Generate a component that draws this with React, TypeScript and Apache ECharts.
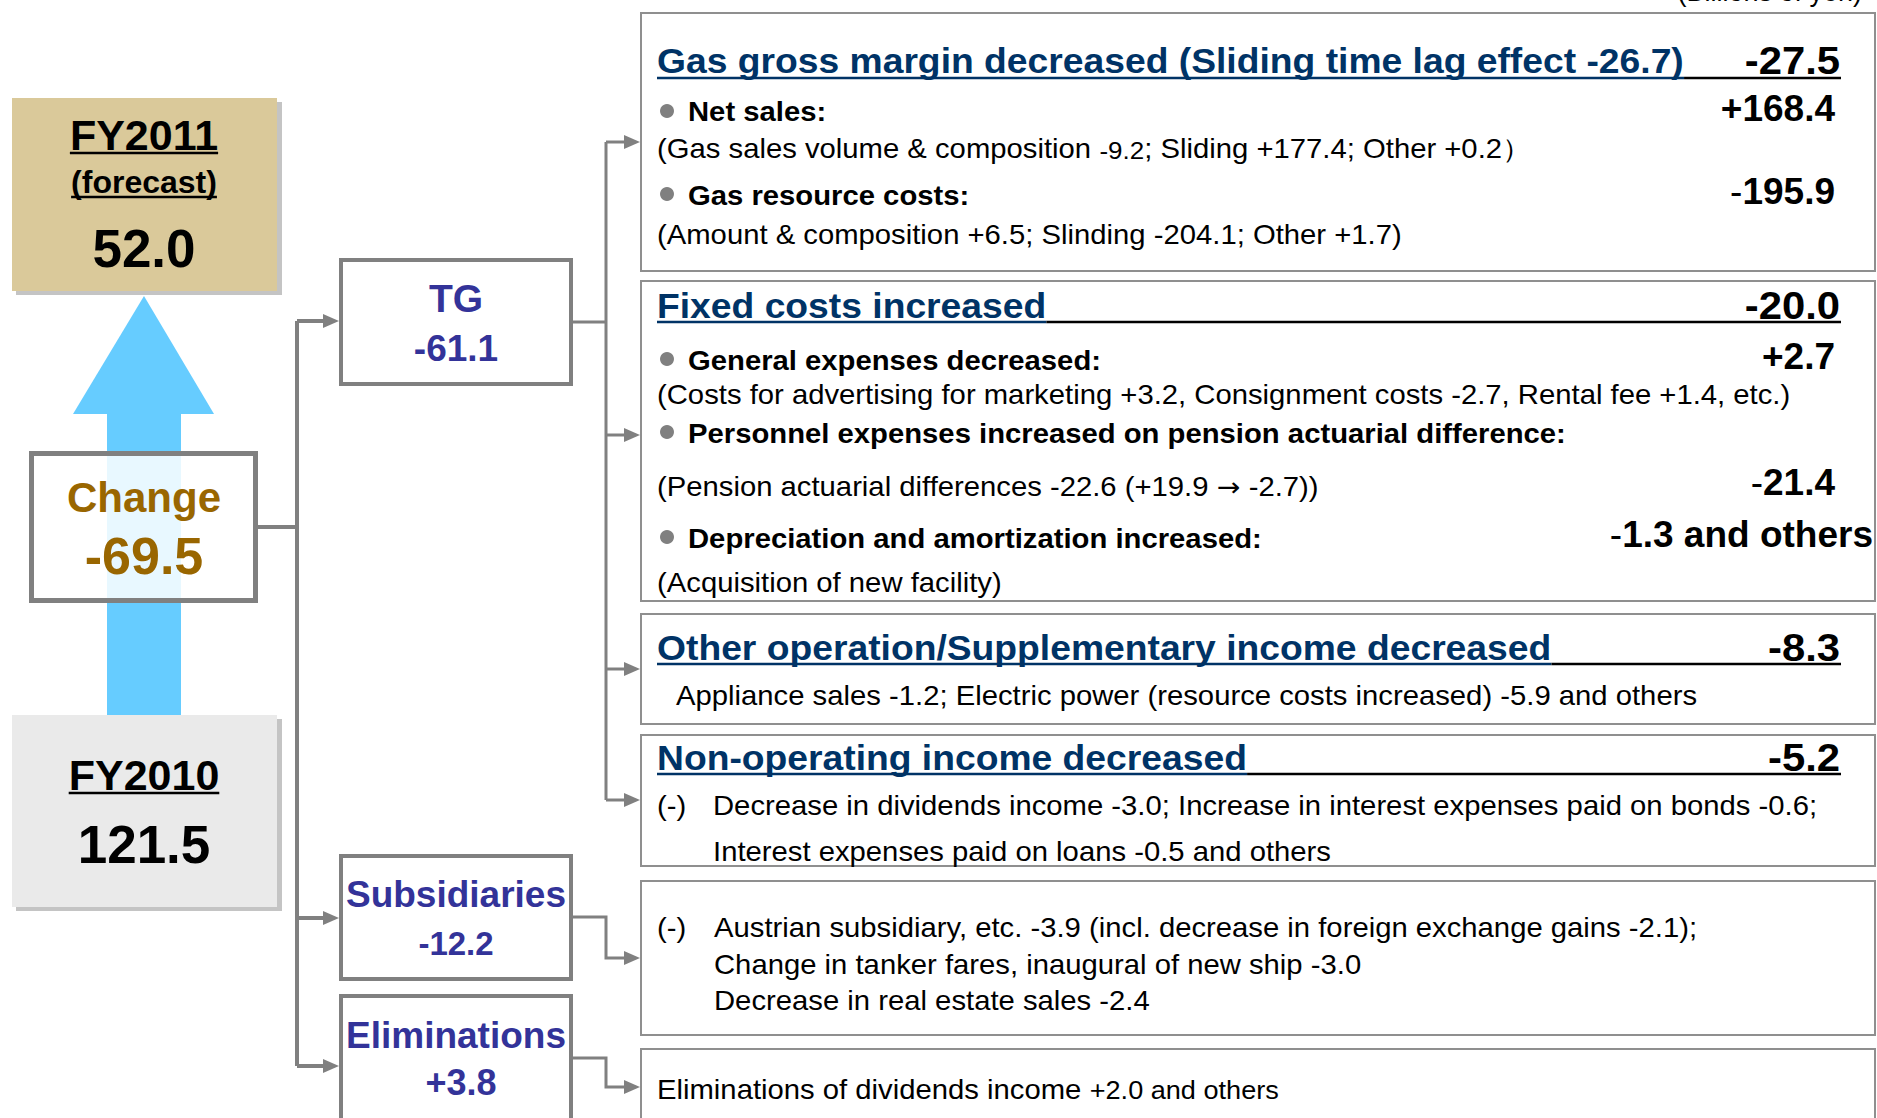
import React, { useEffect, useRef } from "react";
import * as echarts from "echarts";

// ---------------- data ----------------
const unitNote = "(Billions of yen)";
const totalLabels = ["FY2011", "(forecast)", "Change", "FY2010"];
const totalValues = ["52.0", "-69.5", "121.5"];

const segmentNames = ["TG", "Subsidiaries", "Eliminations"];
const segmentValues = ["-61.1", "-12.2", "+3.8"];

const tgFactorTitles = [
  "Gas gross margin decreased (Sliding time lag effect -26.7)",
  "Fixed costs increased",
  "Other operation/Supplementary income decreased",
  "Non-operating income decreased",
];
const tgFactorValues = ["-27.5", "-20.0", "-8.3", "-5.2"];

const gasItems = ["Net sales:", "Gas resource costs:"];
const gasItemValues = ["+168.4", "-195.9"];
const gasItemNotes = [
  ["(Gas sales volume & composition ", "-9.2", "; Sliding +177.4; Other +0.2\uFF09"],
  ["(Amount & composition +6.5; Slinding -204.1; Other +1.7)"],
];

const fixedItems = [
  "General expenses decreased:",
  "Personnel expenses increased on pension actuarial difference:",
  "Depreciation and amortization increased:",
];
const fixedItemValues = ["+2.7", "-21.4", "-1.3"];
const fixedItemNotes = [
  ["(Costs for advertising for marketing +3.2, Consignment costs -2.7, Rental fee +1.4, etc.)"],
  ["(Pension actuarial differences -22.6 (+19.9 ", "\u2192", " -2.7))"],
  ["(Acquisition of new facility)"],
];
const andOthers = " and others";

const otherNote = "Appliance sales -1.2; Electric power (resource costs increased) -5.9 and others";
const minusMark = "(-)";
const nonOpNotes = [
  "Decrease in dividends income -3.0; Increase in interest expenses paid on bonds -0.6;",
  "Interest expenses paid on loans -0.5 and others",
];
const subsidiaryNotes = [
  "Austrian subsidiary, etc. -3.9 (incl. decrease in foreign exchange gains -2.1);",
  "Change in tanker fares, inaugural of new ship -3.0",
  "Decrease in real estate sales -2.4",
];
const eliminationNote = ["Eliminations of dividends income ", "+2.0 and others"];

// ---------------- helpers ----------------
const FAM = '"Liberation Sans", Arial, Helvetica, sans-serif';
const ARROWFAM = '"DejaVu Sans", "Liberation Sans", sans-serif';
const GRAY = "#808080";
const NAVY = "#003366";
const PURPLE = "#333399";
const BROWN = "#996600";
const SX = 1.084; // horizontal stretch of the body text
const TSX = 1.035; // horizontal stretch of headings

let ctx: CanvasRenderingContext2D | null = null;
function fontStr(size: number, weight: string, fam = FAM) {
  return `${weight} ${size}px ${fam}`;
}
function mw(text: string, size: number, weight = "normal", fam = FAM) {
  if (!ctx) ctx = document.createElement("canvas").getContext("2d");
  ctx!.font = fontStr(size, weight, fam);
  return ctx!.measureText(text).width;
}

type Part = [string, number, string?, string?, string?]; // text, size, weight, color, family

function T(x: number, base: number, text: string, size: number, weight = "normal", color = "#000", align = "left", sx = 1, fam = FAM) {
  return {
    type: "text",
    x,
    y: base - 0.335 * size,
    scaleX: sx,
    silent: true,
    style: {
      text,
      font: fontStr(size, weight, fam),
      fill: color,
      textAlign: align,
      textVerticalAlign: "middle",
      align,
      verticalAlign: "middle",
    },
  };
}

function runs(x: number, base: number, parts: Part[], align = "left", sx = 1) {
  const widths = parts.map((p) => mw(p[0], p[1], p[2] || "normal", p[4] || FAM) * sx);
  const total = widths.reduce((a, b) => a + b, 0);
  let cx = align === "right" ? x - total : align === "center" ? x - total / 2 : x;
  const out: any[] = [];
  parts.forEach((p, i) => {
    out.push(T(cx, base, p[0], p[1], p[2] || "normal", p[3] || "#000", "left", sx, p[4] || FAM));
    cx += widths[i];
  });
  return out;
}
function body(x: number, base: number, text: string, size = 27, weight = "normal") {
  return T(x, base, text, size, weight, "#000", "left", SX);
}

function line(points: number[][], w = 3, color = GRAY) {
  return { type: "polyline", silent: true, shape: { points }, style: { stroke: color, lineWidth: w, fill: null, lineJoin: "miter" } };
}
function arrowHead(tipX: number, y: number, len = 16, half = 7) {
  return {
    type: "polygon",
    silent: true,
    shape: { points: [[tipX, y], [tipX - len, y - half], [tipX - len, y + half]] },
    style: { fill: GRAY },
  };
}
function box(x: number, y: number, w: number, h: number, lw: number, stroke = GRAY, fill = "#fff") {
  return {
    type: "rect",
    silent: true,
    shape: { x: x + lw / 2, y: y + lw / 2, width: w - lw, height: h - lw },
    style: { fill, stroke, lineWidth: lw },
  };
}
function hbar(x1: number, x2: number, y: number, color: string, t = 2.5) {
  return { type: "rect", silent: true, shape: { x: x1, y: y - t / 2, width: x2 - x1, height: t }, style: { fill: color } };
}
function underlined(cx: number, base: number, text: string, size: number, uy: number) {
  const w = mw(text, size, "bold");
  const x1 = cx - w / 2;
  return [T(cx, base, text, size, "bold", "#000", "center"), hbar(x1, x1 + w, uy, "#000", 2.5)];
}
function bullet(y: number) {
  return { type: "circle", silent: true, shape: { cx: 667, cy: y, r: 7 }, style: { fill: GRAY } };
}
function factorTitle(base: number, uy: number, title: string, value: string) {
  const w = mw(title, 36, "bold") * TSX;
  return [
    T(657, base, title, 36, "bold", NAVY, "left", TSX),
    T(1840, base, value, 38, "bold", "#000", "right", 1.1),
    hbar(657, 657 + w, uy, NAVY, 2.5),
    hbar(657 + w, 1841, uy, "#000", 2.5),
  ];
}
function signedValue(right: number, base: number, v: string, size: number, tail = "") {
  const sign = v.charAt(0) === "-" ? "-" : "";
  const rest = sign ? v.slice(1) : v;
  const parts: Part[] = [];
  if (sign) parts.push([sign, size, "normal"]);
  parts.push([rest + tail, size, "bold"]);
  return runs(right, base, parts, "right");
}

function buildElements() {
  const el: any[] = [];

  // unit note (cut off at the top edge, as in the original slide)
  el.push(T(1862, 1, unitNote, 27, "normal", "#000", "right"));

  // ---------- left summary column ----------
  el.push({ type: "rect", silent: true, shape: { x: 16, y: 102, width: 266, height: 193 }, style: { fill: "#c4c4c4" } });
  el.push({ type: "rect", silent: true, shape: { x: 12, y: 98, width: 265, height: 193 }, style: { fill: "#DAC99A" } });
  el.push(...underlined(144, 149, totalLabels[0], 43, 153));
  el.push(...underlined(144, 193, totalLabels[1], 32, 197));
  el.push(T(144, 266, totalValues[0], 53, "bold", "#000", "center"));

  // big arrow
  el.push({
    type: "polygon",
    silent: true,
    shape: { points: [[144, 296], [73, 414], [214, 414]] },
    style: { fill: "#66CCFF" },
  });
  el.push({ type: "rect", silent: true, shape: { x: 107, y: 413, width: 74, height: 303 }, style: { fill: "#66CCFF" } });

  el.push({ type: "rect", silent: true, shape: { x: 16, y: 719, width: 266, height: 192 }, style: { fill: "#c4c4c4" } });
  el.push({ type: "rect", silent: true, shape: { x: 12, y: 715, width: 265, height: 192 }, style: { fill: "#EAEAEA" } });
  el.push(...underlined(144, 789, totalLabels[3], 43, 793));
  el.push(T(144, 862, totalValues[2], 53, "bold", "#000", "center"));

  // Change box
  el.push(box(29, 451, 229, 152, 5, GRAY, "rgba(255,255,255,0.85)"));
  el.push(T(144, 512, totalLabels[2], 42, "bold", BROWN, "center"));
  el.push(T(144, 573, totalValues[1], 52, "bold", BROWN, "center"));

  // left connectors
  el.push(line([[258, 527], [297, 527]], 4));
  el.push(line([[297, 321], [297, 1066]], 4));
  el.push(line([[297, 321], [324, 321]], 4));
  el.push(arrowHead(339, 321));
  el.push(line([[297, 918], [324, 918]], 4));
  el.push(arrowHead(339, 918));
  el.push(line([[297, 1066], [324, 1066]], 4));
  el.push(arrowHead(339, 1066));

  // segment boxes: top, height, name baseline, value baseline, name size, value size
  const segBoxes = [
    [258, 128, 312, 361, 39, 37],
    [854, 127, 907, 955, 37, 33],
    [994, 140, 1048, 1095, 37, 36],
  ];
  segBoxes.forEach((b, i) => {
    el.push(box(339, b[0], 234, b[1], 4));
    el.push(T(456, b[2], segmentNames[i], b[4], "bold", PURPLE, "center"));
    el.push(T(i === 2 ? 461 : 456, b[3], segmentValues[i], b[5], "bold", PURPLE, "center"));
  });

  // right connectors
  el.push(line([[573, 322], [606, 322]], 3));
  el.push(line([[606, 142], [606, 800]], 3));
  [142, 435, 669, 800].forEach((y) => {
    el.push(line([[606, y], [626, y]], 3));
    el.push(arrowHead(640, y));
  });
  el.push(line([[573, 917], [606, 917], [606, 958], [626, 958]], 3));
  el.push(arrowHead(640, 958));
  el.push(line([[573, 1058], [606, 1058], [606, 1087], [626, 1087]], 3));
  el.push(arrowHead(640, 1087));

  // ---------- right panels ----------
  const PB = "#8f8f8f";
  el.push(box(640, 12, 1236, 260, 2, PB));
  el.push(box(640, 280, 1236, 322, 2, PB));
  el.push(box(640, 613, 1236, 112, 2, PB));
  el.push(box(640, 734, 1236, 133, 2, PB));
  el.push(box(640, 880, 1236, 156, 2, PB));
  el.push(box(640, 1048, 1236, 100, 2, PB));

  // Panel 1: gas gross margin
  el.push(...factorTitle(73, 78, tgFactorTitles[0], tgFactorValues[0]));
  el.push(bullet(111));
  el.push(body(688, 121, gasItems[0], 27, "bold"));
  el.push(T(1835, 121, gasItemValues[0], 37, "bold", "#000", "right"));
  el.push(
    ...runs(
      657,
      158,
      [
        [gasItemNotes[0][0], 27],
        [gasItemNotes[0][1], 24],
        [gasItemNotes[0][2], 27],
      ],
      "left",
      SX
    )
  );
  el.push(bullet(194));
  el.push(body(688, 205, gasItems[1], 27, "bold"));
  el.push(...signedValue(1835, 204, gasItemValues[1], 37));
  el.push(body(657, 244, gasItemNotes[1][0]));

  // Panel 2: fixed costs
  el.push(...factorTitle(318, 322, tgFactorTitles[1], tgFactorValues[1]));
  el.push(bullet(359));
  el.push(body(688, 370, fixedItems[0], 27, "bold"));
  el.push(T(1835, 369, fixedItemValues[0], 37, "bold", "#000", "right"));
  el.push(body(657, 404, fixedItemNotes[0][0]));
  el.push(bullet(432));
  el.push(body(688, 443, fixedItems[1], 27, "bold"));
  el.push(
    ...runs(
      657,
      496,
      [
        [fixedItemNotes[1][0], 27],
        [fixedItemNotes[1][1], 26, "normal", "#000", ARROWFAM],
        [fixedItemNotes[1][2], 27],
      ],
      "left",
      SX
    )
  );
  el.push(...signedValue(1835, 495, fixedItemValues[1], 37));
  el.push(bullet(537));
  el.push(body(688, 548, fixedItems[2], 27, "bold"));
  el.push(...signedValue(1873, 547, fixedItemValues[2], 37, andOthers));
  el.push(body(657, 592, fixedItemNotes[2][0]));

  // Panel 3: other operation
  el.push(...factorTitle(660, 664, tgFactorTitles[2], tgFactorValues[2]));
  el.push(body(676, 705, otherNote));

  // Panel 4: non-operating
  el.push(...factorTitle(770, 774, tgFactorTitles[3], tgFactorValues[3]));
  el.push(body(657, 815, minusMark));
  el.push(body(713, 815, nonOpNotes[0]));
  el.push(body(713, 861, nonOpNotes[1]));

  // Panel 5: subsidiaries
  el.push(body(657, 937, minusMark));
  el.push(body(714, 937, subsidiaryNotes[0]));
  el.push(body(714, 974, subsidiaryNotes[1]));
  el.push(body(714, 1010, subsidiaryNotes[2]));

  // Panel 6: eliminations
  el.push(
    ...runs(
      657,
      1099,
      [
        [eliminationNote[0], 27],
        [eliminationNote[1], 25],
      ],
      "left",
      SX
    )
  );

  return el;
}

export default function App() {
  const ref = useRef<HTMLDivElement>(null);
  useEffect(() => {
    if (!ref.current) return;
    const chart = echarts.init(ref.current, null, { renderer: "svg", width: 1877, height: 1118 });
    chart.setOption({
      animation: false,
      backgroundColor: "#ffffff",
      graphic: { elements: buildElements() },
    });
    return () => chart.dispose();
  }, []);
  return (
    <div
      ref={ref}
      style={{ position: "fixed", left: 0, top: 0, width: 1877, height: 1118, background: "#fff" }}
    />
  );
}
